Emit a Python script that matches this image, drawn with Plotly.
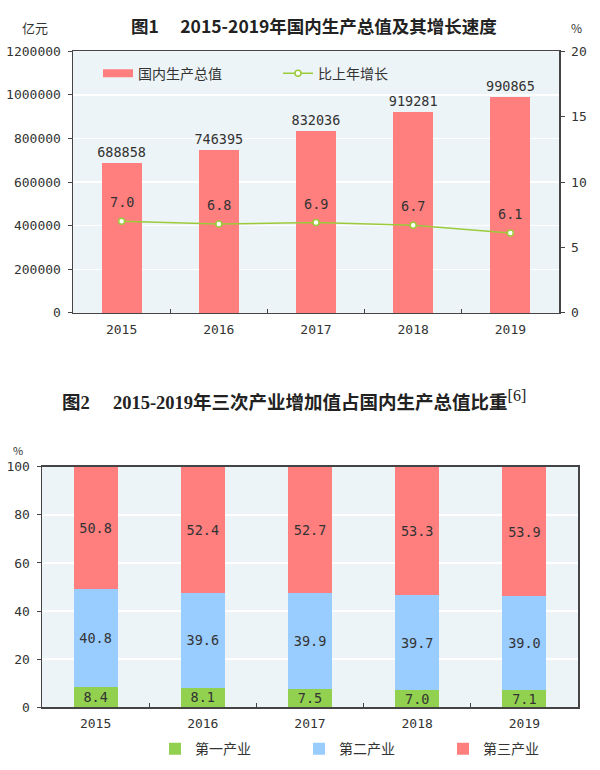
import plotly.graph_objects as go

years = ["2015", "2016", "2017", "2018", "2019"]
gdp = [688858, 746395, 832036, 919281, 990865]
growth = [7.0, 6.8, 6.9, 6.7, 6.1]
primary = [8.4, 8.1, 7.5, 7.0, 7.1]
secondary = [40.8, 39.6, 39.9, 39.7, 39.0]
tertiary = [50.8, 52.4, 52.7, 53.3, 53.9]

gdp_ticks = [0, 200000, 400000, 600000, 800000, 1000000, 1200000]
pct_ticks = [0, 5, 10, 15, 20]
share_ticks = [0, 20, 40, 60, 80, 100]

FONT = "Noto Sans CJK SC"
NUM = "DejaVu Sans Mono"
TXT = "#333333"
BG = "#EDF4F8"
RED = "#FF7F7F"
BLUE = "#99CCFF"
GREEN = "#92D050"
LINEG = "#9BCB3B"

W = 600
H = 770
def fx(px):
    return px / W
def fy(px):
    return 1 - px / H

fig = go.Figure()

fig.add_trace(go.Bar(
    x=years, y=gdp, name="国内生产总值", marker=dict(color=RED, line=dict(width=0)),
    text=[str(v) for v in gdp], textposition="outside", cliponaxis=False, textangle=0,
    textfont=dict(family=NUM, size=13.5, color=TXT), showlegend=False,
    xaxis="x", yaxis="y"))
# legend swatch for the bar series (wide rectangle as in the original)
fig.add_trace(go.Scatter(
    x=[None], y=[None], name="国内生产总值", mode="lines",
    line=dict(color=RED, width=8), xaxis="x", yaxis="y", legend="legend"))
fig.add_trace(go.Scatter(
    x=years, y=growth, name="比上年增长", mode="lines+markers",
    line=dict(color=LINEG, width=1.5),
    marker=dict(symbol="circle", size=6, color="white", line=dict(color=LINEG, width=1.5)),
    xaxis="x", yaxis="y2", legend="legend"))

for i, g in enumerate(growth):
    fig.add_annotation(x=i, y=g, xref="x", yref="y2", text=f"{g:.1f}", showarrow=False,
                       yshift=19, xanchor="center", yanchor="middle",
                       font=dict(family=NUM, size=13.5, color=TXT))

for vals, nm, col in [(primary, "第一产业", GREEN), (secondary, "第二产业", BLUE),
                      (tertiary, "第三产业", RED)]:
    fig.add_trace(go.Bar(
        x=years, y=vals, name=nm, marker=dict(color=col, line=dict(width=0)),
        text=[f"{v:.1f}" for v in vals], textposition="inside", insidetextanchor="middle",
        textangle=0, constraintext="none",
        textfont=dict(family=NUM, size=13.5, color=TXT), xaxis="x3", yaxis="y3",
        legend="legend2"))

axis_line = dict(showline=True, linecolor="#444444", linewidth=1.5)
tickf = dict(family=NUM, size=13, color=TXT)

fig.update_layout(
    width=W, height=H, margin=dict(l=0, r=0, t=0, b=0),
    paper_bgcolor="white", plot_bgcolor=BG,
    barmode="stack", bargap=0.59,
    font=dict(family=FONT, color=TXT),
    uniformtext=dict(minsize=12, mode="show"),
    xaxis=dict(domain=[fx(73), fx(559)], anchor="y", type="category", tickson="boundaries",
               range=[-0.5, 4.5], ticks="inside", ticklen=4, tickcolor="#444444", tickfont=tickf,
               showgrid=False, mirror=True, ticklabelstandoff=4, **axis_line),
    yaxis=dict(domain=[fy(312), fy(45)], anchor="x", range=[0, 1200000], tickvals=gdp_ticks,
               ticktext=[str(v) for v in gdp_ticks], ticks="outside", ticklen=4, tickcolor="#444444",
               tickfont=tickf, showgrid=True, gridcolor="white", gridwidth=1.5, zeroline=False,
               ticklabelstandoff=4, **axis_line),
    yaxis2=dict(overlaying="y", side="right", anchor="x", range=[0, 20], tickvals=pct_ticks,
                ticks="outside", ticklen=4, tickcolor="#444444", tickfont=tickf, showgrid=False,
                zeroline=False, ticklabelstandoff=4, **axis_line),
    xaxis3=dict(domain=[fx(42), fx(578)], anchor="y3", type="category", tickson="boundaries",
                range=[-0.5, 4.5], ticks="inside", ticklen=4, tickcolor="#444444", tickfont=tickf,
                showgrid=False, mirror=True, ticklabelstandoff=4, **axis_line),
    yaxis3=dict(domain=[fy(714), fy(469)], anchor="x3", range=[0, 100], tickvals=share_ticks,
                ticks="outside", ticklen=4, tickcolor="#444444", tickfont=tickf, showgrid=True,
                gridcolor="white", gridwidth=1.5, zeroline=False, mirror=True,
                ticklabelstandoff=4, **axis_line),
    legend=dict(orientation="h", x=fx(98), y=fy(68), xanchor="left", yanchor="middle",
                bgcolor="rgba(0,0,0,0)", font=dict(family=FONT, size=14, color=TXT),
                itemwidth=30, traceorder="normal", entrywidth=135, entrywidthmode="pixels"),
    legend2=dict(orientation="h", x=fx(155), y=fy(757), xanchor="left", yanchor="middle",
                 bgcolor="rgba(0,0,0,0)", font=dict(family=FONT, size=14, color=TXT),
                 traceorder="normal", entrywidth=99, entrywidthmode="pixels"),
    showlegend=True,
)

fig.add_annotation(x=fx(314), y=fy(19), xref="paper", yref="paper", showarrow=False,
                   xanchor="center", yanchor="middle",
                   text="<b>图1　 2015-2019年国内生产总值及其增长速度</b>",
                   font=dict(family=FONT, size=17.5, color="#222222"))
fig.add_annotation(x=fx(35), y=fy(21), xref="paper", yref="paper", showarrow=False,
                   xanchor="center", yanchor="middle",
                   text="亿元", font=dict(family=FONT, size=13, color=TXT))
fig.add_annotation(x=fx(576), y=fy(21), xref="paper", yref="paper", showarrow=False,
                   xanchor="center", yanchor="middle",
                   text="%", font=dict(family=FONT, size=12, color=TXT))
fig.add_annotation(x=fx(294), y=fy(401), xref="paper", yref="paper", showarrow=False,
                   xanchor="center", yanchor="middle",
                   text="<b>图2　 2015-2019年三次产业增加值占国内生产总值比重</b><sup><span style='font-size:16px'>[6]</span></sup>",
                   font=dict(family="Liberation Serif, " + FONT, size=18.5, color="#222222"))
fig.add_annotation(x=fx(18), y=fy(452), xref="paper", yref="paper", showarrow=False,
                   xanchor="center", yanchor="middle",
                   text="%", font=dict(family=FONT, size=11, color=TXT))

# remove the default page margin so the 600x770 figure fills the window exactly
fig.write_html("out.html", config={"displayModeBar": False, "staticPlot": True},
               post_script="document.body.style.margin='0';")
